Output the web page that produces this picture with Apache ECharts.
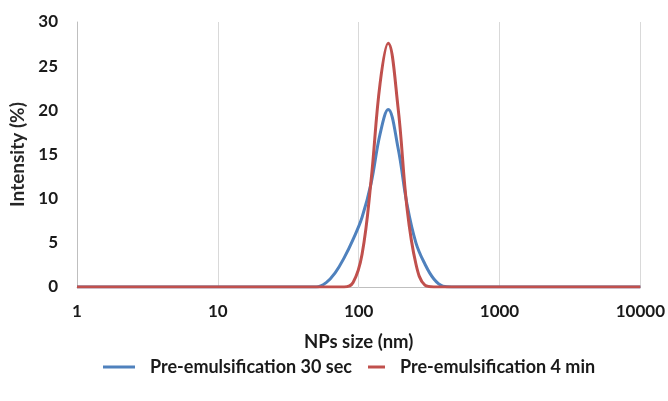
<!DOCTYPE html>
<html><head><meta charset="utf-8">
<script src="https://cdn.jsdelivr.net/npm/echarts@6/dist/echarts.min.js"></script>
<style>html,body{margin:0;padding:0;background:#fff}#c{width:668px;height:401px}</style>
</head><body><div id="c"></div>
<script>
const sizes = [1, 10, 30, 40, 50, 58.77, 68.06, 78.82, 91.28, 105.7, 122.4, 141.8, 162, 190.1, 220.2, 255.0, 295.3, 342.0, 396.1, 458.7, 600, 1000, 10000];
const series30sec = [0, 0, 0, 0, 0, 0.5, 1.6, 3.3, 5.4, 7.9, 11.7, 17.3, 20.1, 15.8, 9.4, 5.0, 2.6, 0.9, 0.1, 0, 0, 0, 0];
const series4min  = [0, 0, 0, 0, 0, 0, 0, 0, 0.5, 3.7, 12.0, 23.0, 27.6, 20.4, 9.0, 2.6, 0.2, 0, 0, 0, 0, 0, 0];
const yTicks = [0, 5, 10, 15, 20, 25, 30];
const xTicks = [1, 10, 100, 1000, 10000];
const seriesNames = ['Pre-emulsification 30 sec', 'Pre-emulsification 4 min'];
const colors = ['#4f81bd', '#c0504d'];
const font = 'Lato, "Open Sans", sans-serif';
const chart = echarts.init(document.getElementById('c'));
const mk = arr => sizes.map((s, i) => [s, arr[i]]);
const legendText = pad => ({fontFamily: font, fontWeight: 'bold', fontSize: 18, color: '#1a1a1a', padding: [0, 0, 0, pad]});
chart.setOption({
  animation: false,
  grid: {left: 77, right: 26, top: 22, bottom: 114},
  xAxis: {
    type: 'log', min: 1, max: 10000, logBase: 10,
    name: 'NPs size (nm)', nameLocation: 'middle', nameGap: 46,
    nameTextStyle: {fontFamily: font, fontWeight: 'bold', fontSize: 18.5, color: '#1a1a1a'},
    axisLine: {lineStyle: {color: '#bfbfbf'}},
    axisTick: {show: false},
    axisLabel: {fontFamily: font, fontWeight: 'bold', fontSize: 17, color: '#1a1a1a', margin: 16,
      formatter: v => { const r = Math.round(v); return xTicks.includes(r) ? String(r) : ''; }},
    splitLine: {show: true, lineStyle: {color: '#d9d9d9'}},
    minorTick: {show: false}
  },
  yAxis: {
    type: 'value', min: 0, max: 30, interval: 5,
    name: 'Intensity (%)', nameLocation: 'middle', nameGap: 41, nameRotate: 90,
    nameTextStyle: {fontFamily: font, fontWeight: 'bold', fontSize: 19, color: '#262626'},
    axisLine: {show: true, lineStyle: {color: '#bfbfbf'}},
    axisTick: {show: false},
    axisLabel: {fontFamily: font, fontWeight: 'bold', fontSize: 17, color: '#1a1a1a', margin: 19,
      formatter: v => yTicks.includes(v) ? String(v) : ''},
    splitLine: {show: false}
  },
  legend: [
    {bottom: 25, left: 103, padding: 0, itemWidth: 32, itemHeight: 3, icon: 'rect',
     textStyle: legendText(10), data: [seriesNames[0]]},
    {bottom: 25, left: 368, padding: 0, itemWidth: 17, itemHeight: 3, icon: 'rect',
     textStyle: legendText(10), data: [seriesNames[1]]}
  ],
  series: seriesNames.map((n, k) => ({
    name: n, type: 'line', smooth: 0.4, showSymbol: false,
    data: mk(k === 0 ? series30sec : series4min),
    lineStyle: {width: 3, color: colors[k]}, itemStyle: {color: colors[k]}
  }))
});
</script></body></html>
